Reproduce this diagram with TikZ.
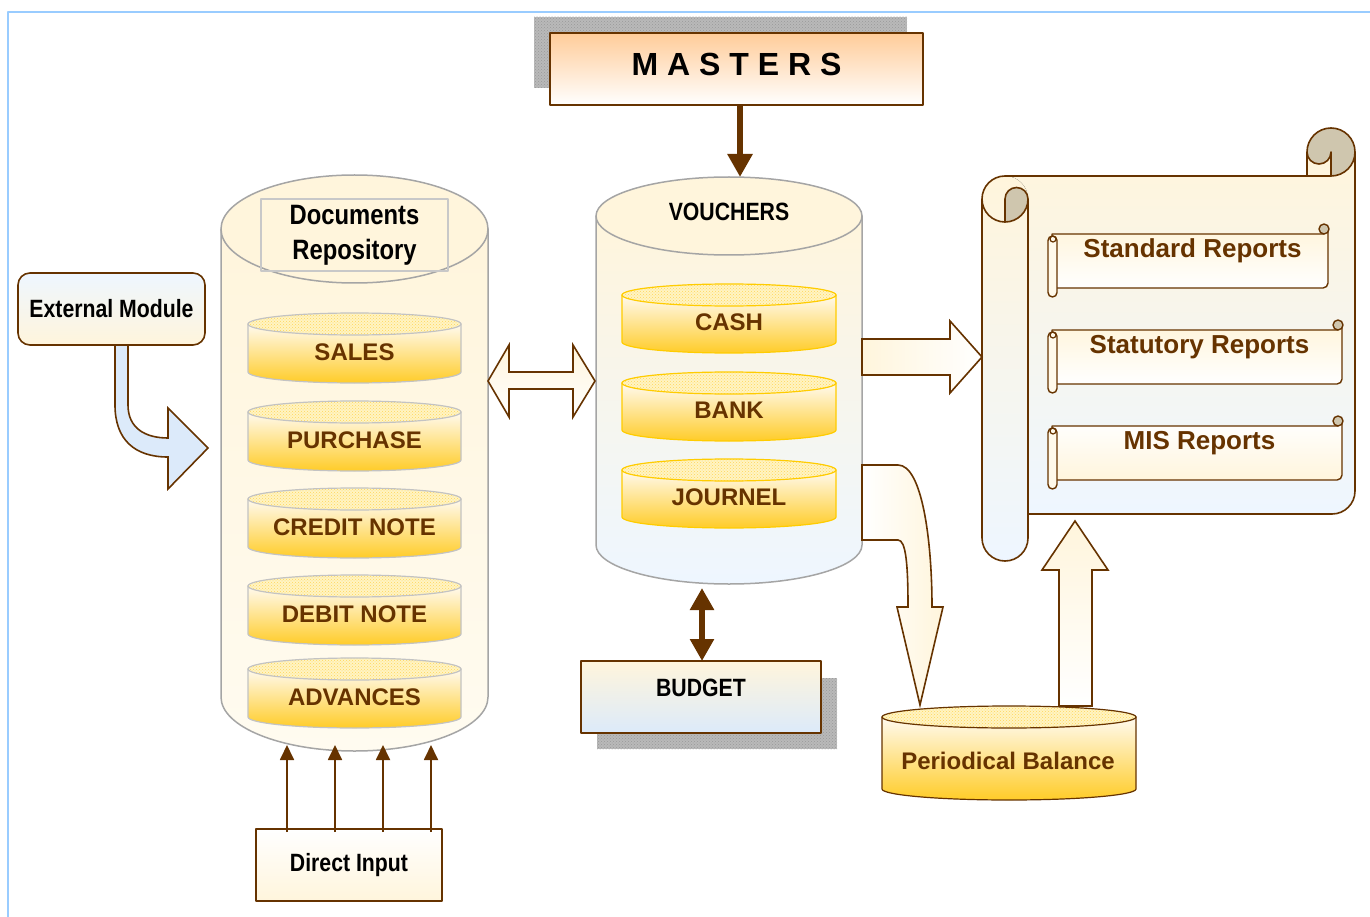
\documentclass[tikz,border=0pt]{standalone}
\usepackage{fontspec}
\setmainfont{Liberation Sans}
\newfontfamily\narrowfont{Liberation Sans}[FakeStretch=0.85]
\usetikzlibrary{arrows.meta,patterns}

\definecolor{brn}{RGB}{102,51,0}
\definecolor{cream}{RGB}{255,245,220}
\definecolor{paleblue}{RGB}{238,246,255}
\definecolor{skyblue}{RGB}{220,234,250}
\definecolor{peach}{RGB}{255,204,153}
\definecolor{gold}{RGB}{255,204,40}
\definecolor{lightgold}{RGB}{255,250,240}
\definecolor{capfill}{RGB}{255,244,195}
\definecolor{capdot}{RGB}{255,214,90}
\definecolor{rimgray}{RGB}{165,165,165}
\definecolor{docrim}{RGB}{195,195,195}
\definecolor{titlegray}{RGB}{200,200,200}
\definecolor{rimyellow}{RGB}{255,204,0}
\definecolor{curlgray}{RGB}{207,198,174}
\definecolor{framebl}{RGB}{153,204,255}
\definecolor{meshgray}{RGB}{185,185,185}
\definecolor{docsend}{RGB}{255,251,240}

% #1 body style, #2 cap style, #3 name, #4 centre x, #5 top y, #6 x radius, #7 y radius, #8 bottom y
\newcommand{\drum}[8]{%
  \draw[#1] (#4-#6,#5) -- (#4-#6,#8) arc[start angle=180,end angle=0,x radius=#6,y radius=#7] -- (#4+#6,#5) -- cycle;
  \draw[#2] (#4,#5) ellipse[x radius=#6,y radius=#7];
  \path (#4,{(#5+#8)/2}) node[inner sep=0pt,outer sep=0pt,minimum width={2*#6},minimum height={#8-#5+2*#7}] (#3) {};
}

\begin{document}
\begin{tikzpicture}[x=1pt, y=-1pt, line join=round]
\tikzstyle{box}=[draw=brn, line width=1.6pt, inner sep=0pt, outer sep=0pt, font=\narrowfont\bfseries\fontsize{25}{30}\selectfont]
\tikzstyle{lbl}=[text=brn, inner sep=0pt, font=\bfseries\fontsize{24}{28}\selectfont]
\tikzstyle{replbl}=[lbl, font=\bfseries\fontsize{26}{30}\selectfont]
\tikzstyle{mesh}=[preaction={fill=meshgray}, pattern=crosshatch dots, pattern color=gray!80]
\tikzstyle{outerbody}=[draw=rimgray, line width=1.5pt, top color=cream]
\tikzstyle{outercap}=[draw=rimgray, line width=1.5pt, fill=cream]
\tikzstyle{innerbody}=[line width=1.2pt, top color=lightgold, bottom color=gold]
\tikzstyle{innercap}=[line width=1.2pt, preaction={fill=capfill}, pattern=crosshatch dots, pattern color=capdot]
\tikzstyle{fat}=[draw=brn, line width=1.6pt, line join=miter]
\tikzstyle{heavy}=[draw=brn, line width=6pt, -{Triangle[width=24pt,length=23pt]}]
\tikzstyle{slim}=[draw=brn, line width=1.8pt, -{Triangle[width=14pt,length=15pt]}]
\tikzstyle{rim}=[draw=brn, line width=1.6pt]
\tikzstyle{curl}=[rim, fill=curlgray]
\tikzstyle{sheet}=[top color=cream, bottom color=paleblue]

\useasboundingbox (0,0) rectangle (1370,917);
\draw[framebl, line width=2pt] (8,917) -- (8,12) -- (1370,12);

\fill[mesh] (534,17) rectangle (907,88);
\node[box, font=\bfseries\fontsize{32}{36}\selectfont, top color=peach, bottom color=white,
  minimum width=373, minimum height=72, text depth=10pt] (masters) at (736.5,69) {M A S T E R S};

\drum{outerbody, bottom color=docsend}{outercap}{docs}{354.5}{229}{133.5}{54}{697}
\node[box, draw=titlegray, line width=1.3pt, align=center, font=\narrowfont\bfseries\fontsize{28}{35}\selectfont,
  minimum width=187, minimum height=72] (doctitle) at (354.5,235) {Documents\\Repository};
\foreach \nm/\lab/\y in {sales/SALES/324, purchase/PURCHASE/412, credit/CREDIT NOTE/499, debit/DEBIT NOTE/586, advances/ADVANCES/669}{
  \drum{innerbody, draw=docrim}{innercap, draw=docrim}{\nm}{354.5}{\y}{106.5}{11}{\y+48}
  \node[lbl] (\nm-t) at (354.5,\y+28) {\lab};
}

\drum{outerbody, bottom color=paleblue}{outercap}{vouch}{729}{216}{133}{39}{545}
\node[font=\narrowfont\bfseries\fontsize{25}{30}\selectfont] (vouchtitle) at (729,212) {VOUCHERS};
\foreach \nm/\lab/\y in {cash/CASH/295, bank/BANK/383, journel/JOURNEL/470}{
  \drum{innerbody, draw=rimyellow}{innercap, draw=rimyellow}{\nm}{729}{\y}{107}{11}{\y+47}
  \node[lbl] (\nm-t) at (729,\y+27) {\lab};
}

\node[box, rounded corners=12pt, top color=paleblue, bottom color=cream,
  minimum width=187, minimum height=72] (extmod) at (111.5,309) {External Module};
\draw[fat, fill=skyblue] (115,0 |- extmod.south) -- (115,405) .. controls (115,440) and (135,457) .. (168,457)
  -- (168,489) -- (208,448) -- (168,408) -- (168,438) .. controls (145,438) and (128,428) .. (128,405)
  -- (128,0 |- extmod.south) -- cycle;

\node[box, top color=white, bottom color=cream, minimum width=186, minimum height=72] (direct) at (349,865) {Direct Input};
\foreach \x in {287,335,383,431}
  \draw[slim, shorten >=-6pt, shorten <=-3pt] (\x,0 |- direct.north) -- (\x,0 |- docs.south);

\fill[mesh] (597,678) rectangle (837,749);
\node[box, top color=cream, bottom color=skyblue, minimum width=240, minimum height=72, text depth=18pt] (budget) at (701,697) {BUDGET};
\draw[heavy, {Triangle[width=23pt,length=22pt]}-{Triangle[width=23pt,length=22pt]}, shorten <=4pt]
  (702,0 |- vouch.south) -- (702,0 |- budget.north);
\draw[heavy] (740,0 |- masters.south) -- (740,0 |- vouch.north);

\drum{innerbody, draw=brn}{innercap, draw=brn}{period}{1009}{717}{127}{11}{789}
\node[lbl] (period-t) at (1008,761) {Periodical Balance};

\fill[sheet] (1005,176) -- (1307,176) -- (1307,152) -- (1355,152) -- (1355,491)
  arc[start angle=0,end angle=90,radius=23] -- (1005,514) -- cycle;
\fill[sheet] (1005,176) arc[start angle=-90,end angle=-180,radius=23] -- (982,538)
  arc[start angle=180,end angle=0,radius=23] -- (1028,199) arc[start angle=0,end angle=-90,radius=23] -- cycle;
\draw[rim] (1005,176) -- (1331,176);
\draw[rim] (1307,152) -- (1307,176);
\draw[rim] (1355,152) -- (1355,491) arc[start angle=0,end angle=90,radius=23] -- (1028,514);
\draw[rim] (1005,176) arc[start angle=-90,end angle=-180,radius=23] -- (982,538)
  arc[start angle=180,end angle=0,radius=23] -- (1028,199);
\draw[rim] (982,199) arc[start angle=180,end angle=90,radius=23];
\draw[curl] (1005,199) arc[start angle=180,end angle=360,radius=11.5] arc[start angle=0,end angle=90,radius=23] -- cycle;
\draw[curl] (1331,176) arc[start angle=90,end angle=-180,radius=24] arc[start angle=180,end angle=0,radius=12] -- cycle;

\foreach \nm/\lab/\x/\y/\tc/\bc in {stdrep/Standard Reports/1328/234/cream/white,
    statrep/Statutory Reports/1342/330/cream/white, misrep/MIS Reports/1342/426/white/cream}{
  \draw[rim, line width=1.4pt, top color=\tc, bottom color=\bc] (1052,\y) -- (\x-4,\y) -- (\x-4,\y-5) -- (\x,\y-5)
    -- (\x,\y+49) arc[start angle=0,end angle=90,radius=5] -- (1052,\y+54) -- cycle;
  \draw[rim, line width=1.4pt, fill=cream!60, rounded corners=4.5pt] (1048,\y+2) rectangle (1057,\y+63);
  \draw[rim, line width=1.2pt] (1053,\y+5) circle[radius=3];
  \draw[rim, line width=1.4pt, fill=curlgray] (\x-4,\y-5) circle[radius=5];
  \node[replbl] (\nm) at ({(1057+\x)/2},\y+17) {\lab};
}

\draw[fat, top color=cream, bottom color=white] (docs.east |- 0,381) -- ++(21,-36) -- ++(0,27) -- ++(64,0)
  -- ++(0,-27) -- ++(22,36) -- ++(-22,36) -- ++(0,-28) -- ++(-64,0) -- ++(0,28) -- cycle;
\draw[fat, left color=cream, right color=white] (vouch.east |- 0,339) -- (950,339) -- (950,321) -- (982,357)
  -- (950,393) -- (950,375) -- (vouch.east |- 0,375) -- cycle;
\draw[fat, left color=white, right color=cream] (vouch.east |- 0,465) -- (898,465) .. controls (922,465) and (932,540) .. (932,607)
  -- (943,607) -- (920,705) -- (897,607) -- (908,607) .. controls (908,565) and (906,540) .. (898,540)
  -- (vouch.east |- 0,540) -- cycle;
\draw[fat, top color=cream, bottom color=white] (1059,0 |- period.north) -- (1059,570) -- (1042,570) -- (1075,521)
  -- (1108,570) -- (1092,570) -- (1092,0 |- period.north) -- cycle;
\end{tikzpicture}
\end{document}
